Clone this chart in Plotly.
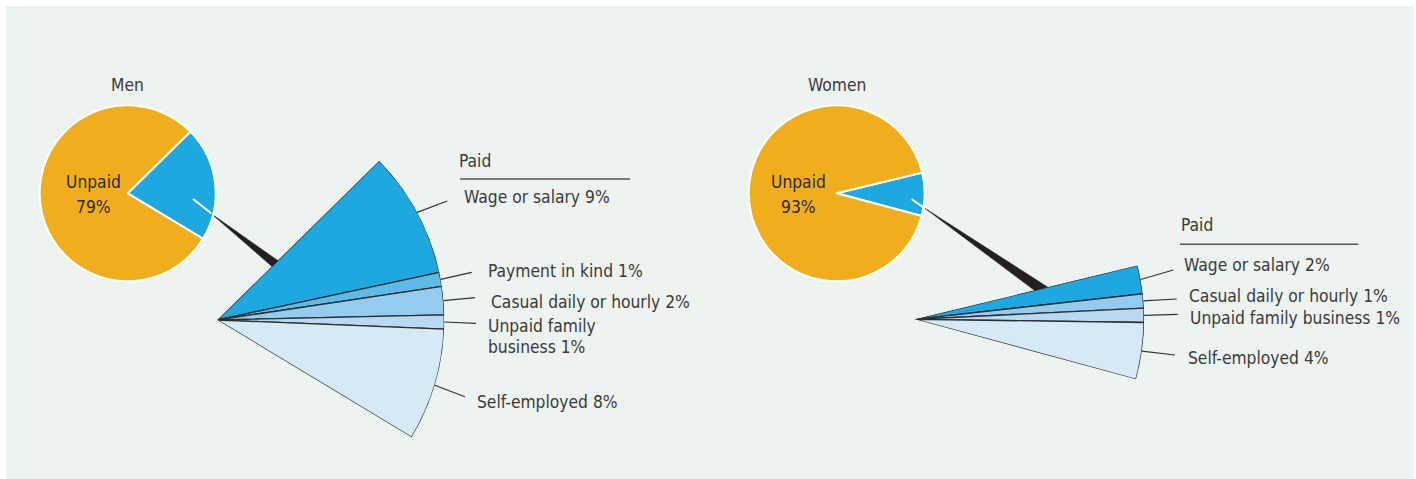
import math
import plotly.graph_objects as go

# ---- data -------------------------------------------------------------
groups = ["Men", "Women"]
unpaid_share = [79, 93]

paid_categories_men = ["Wage or salary", "Payment in kind", "Casual daily or hourly",
                       "Unpaid family business", "Self-employed"]
paid_values_men = [9, 1, 2, 1, 8]

paid_categories_women = ["Wage or salary", "Casual daily or hourly",
                         "Unpaid family business", "Self-employed"]
paid_values_women = [2, 1, 1, 4]

men_label_text = ["Wage or salary 9%", "Payment in kind 1%", "Casual daily or hourly 2%",
                  "Unpaid family<br>business 1%", "Self-employed 8%"]
women_label_text = ["Wage or salary 2%", "Casual daily or hourly 1%",
                    "Unpaid family business 1%", "Self-employed 4%"]

# ---- styling ----------------------------------------------------------
W, H = 1416, 479
FONT = "DejaVu Sans Condensed, Liberation Sans Narrow, sans-serif"
TEXT_COLOR = "#3a3a3a"
FONT_SIZE = 17.3
ORANGE = "#F0AE1D"
BLUE = "#1EA8E0"
cat_colors = {
    "Wage or salary": "#1EA8E0",
    "Payment in kind": "#5DBAE9",
    "Casual daily or hourly": "#93CCEE",
    "Unpaid family business": "#B9D8F1",
    "Self-employed": "#D6E9F7",
}
DEG_PER_PCT = 3.6


def px(x, y):
    """pixel position -> paper fractions"""
    return x / W, 1 - y / H


# pie placement (pixel centre and radius), fan placement (apex and radius)
layout_geo = {
    "Men": dict(pie_c=(127.7, 193.3), pie_r=88, fan_c=(217.3, 320.0), fan_r=227,
                rotation=45.5,
                title_y=85, unpaid_x=93, label_x=[462, 486, 489, 486, 475],
                label_y=[196.5, 270.5, 301.5, 326, 401.5],
                leader_end=[(447.3, 201), (471.7, 272.3), (475, 297.7), (476, 323.3), (465, 396.7)],
                paid_title=(457, 160.5), underline=(460, 630, 179),
                connector=[(211, 213.5), (283.1, 264.3), (277.5, 271.3)],
                white_line=[(193, 199), (211.5, 213.5)]),
    "Women": dict(pie_c=(836.7, 193.3), pie_r=88, fan_c=(915.0, 319.3), fan_r=229,
                  rotation=76.4,
                  title_y=85, unpaid_x=798, label_x=[1182, 1186.5, 1188, 1186],
                  label_y=[265, 295.5, 318.3, 358.3],
                  leader_end=[(1173.3, 270), (1176.7, 299), (1177.7, 314.3), (1175, 355)],
                  paid_title=(1179, 225), underline=(1180, 1358.3, 244.3),
                  connector=[(924.5, 208), (1051.4, 289.4), (1045.2, 298.4)],
                  white_line=[(911.7, 199.3), (925, 208.5)]),
}

fig = go.Figure()
shapes = []
annotations = []

# panel background
shapes.append(dict(type="rect", xref="paper", yref="paper", layer="below",
                   x0=6 / W, x1=1414 / W, y0=0, y1=1 - 6 / H,
                   fillcolor="#EDF3EF", line=dict(width=0)))

series = [
    ("Men", unpaid_share[0], paid_categories_men, paid_values_men, men_label_text),
    ("Women", unpaid_share[1], paid_categories_women, paid_values_women, women_label_text),
]

for idx, (name, unpaid, cats, vals, label_text) in enumerate(series):
    g = layout_geo[name]
    paid_total = sum(vals)
    # start of the paid slice (degrees, counter-clockwise from east)
    start_angle = 90 - g["rotation"]

    # small pie: paid vs unpaid
    cx, cy = g["pie_c"]
    r = g["pie_r"]
    x0, y1 = px(cx - r, cy - r)
    x1, y0 = px(cx + r, cy + r)
    fig.add_trace(go.Pie(
        values=[paid_total, unpaid], labels=["Paid", "Unpaid"], sort=False,
        direction="clockwise", rotation=g["rotation"],
        marker=dict(colors=[BLUE, ORANGE], line=dict(color="white", width=2)),
        textinfo="none", hoverinfo="label+value", showlegend=False,
        domain=dict(x=[x0, x1], y=[y0, y1]),
    ))

    # fan: breakdown of the paid share, drawn as polar bars
    thetas, widths = [], []
    cum = 0
    for v in vals:
        thetas.append(start_angle - (cum + v / 2) * DEG_PER_PCT)
        widths.append(v * DEG_PER_PCT)
        cum += v
    lo = start_angle - paid_total * DEG_PER_PCT
    hi = start_angle
    fcx, fcy = g["fan_c"]
    R = g["fan_r"]
    ys = [math.sin(math.radians(lo)), math.sin(math.radians(hi))]
    top = max(max(ys), 0)
    bot = min(min(ys), 0)
    dx0, dy_top = px(fcx, fcy - R * top)
    dx1, dy_bot = px(fcx + R, fcy - R * bot)
    polar_name = "polar" if idx == 0 else "polar2"
    fig.add_trace(go.Barpolar(
        r=[1] * len(vals), theta=thetas, width=widths, base=0,
        marker=dict(color=[cat_colors[c] for c in cats],
                    line=dict(color="#2e2e2e", width=1.3)),
        text=cats, hoverinfo="text", showlegend=False, subplot=polar_name,
    ))
    fig.update_layout(**{polar_name: dict(
        domain=dict(x=[dx0, dx1], y=[dy_bot, dy_top]),
        sector=[lo, hi], bgcolor="rgba(0,0,0,0)", hole=0,
        radialaxis=dict(visible=False, range=[0, 1], showgrid=False, showline=False,
                        showticklabels=False, ticks=""),
        angularaxis=dict(visible=False, rotation=0, direction="counterclockwise",
                         showgrid=False, showline=False, showticklabels=False, ticks=""),
    )})

    # black connector from the pie slice to the fan
    pts = [px(*p) for p in g["connector"]]
    path = "M {} {} L {} {} L {} {} Z".format(pts[0][0], pts[0][1], pts[1][0], pts[1][1],
                                              pts[2][0], pts[2][1])
    shapes.append(dict(type="path", xref="paper", yref="paper", layer="below", path=path,
                       fillcolor="#231F20", line=dict(color="#231F20", width=0.5)))
    (wx0, wy0), (wx1, wy1) = [px(*p) for p in g["white_line"]]
    shapes.append(dict(type="line", xref="paper", yref="paper", layer="above",
                       x0=wx0, y0=wy0, x1=wx1, y1=wy1, line=dict(color="white", width=2)))

    # leader lines from each slice's arc midpoint to its label
    cum = 0
    for k, v in enumerate(vals):
        a = math.radians(start_angle - (cum + v / 2) * DEG_PER_PCT)
        cum += v
        sx, sy = fcx + R * math.cos(a), fcy - R * math.sin(a)
        ex, ey = g["leader_end"][k]
        p0, p1 = px(sx, sy), px(ex, ey)
        shapes.append(dict(type="line", xref="paper", yref="paper", layer="above",
                           x0=p0[0], y0=p0[1], x1=p1[0], y1=p1[1],
                           line=dict(color="#333333", width=1.2)))

    # labels
    for k, txt in enumerate(label_text):
        lines = txt.split("<br>")
        for j, line in enumerate(lines):
            lx, ly = px(g["label_x"][k], g["label_y"][k] + j * 21.3)
            annotations.append(dict(text=line, x=lx, y=ly, xref="paper", yref="paper",
                                    xanchor="left", yanchor="middle", showarrow=False,
                                    font=dict(family=FONT, size=FONT_SIZE, color=TEXT_COLOR)))
    ptx, pty = px(*g["paid_title"])
    annotations.append(dict(text="Paid", x=ptx, y=pty, xref="paper", yref="paper",
                            xanchor="left", yanchor="middle", showarrow=False,
                            font=dict(family=FONT, size=FONT_SIZE, color=TEXT_COLOR)))
    ux0, uy = px(g["underline"][0], g["underline"][2])
    ux1, _ = px(g["underline"][1], g["underline"][2])
    shapes.append(dict(type="line", xref="paper", yref="paper", layer="above",
                       x0=ux0, y0=uy, x1=ux1, y1=uy, line=dict(color="#555555", width=1.5)))

    # group title and unpaid label
    tx, ty = px(cx, g["title_y"])
    annotations.append(dict(text=name, x=tx, y=ty, xref="paper", yref="paper",
                            xanchor="center", yanchor="middle", showarrow=False,
                            font=dict(family=FONT, size=FONT_SIZE, color=TEXT_COLOR)))
    for j, line in enumerate(["Unpaid", f"{unpaid}%"]):
        ax_, ay_ = px(g["unpaid_x"], 182 + j * 25)
        annotations.append(dict(text=line, x=ax_, y=ay_, xref="paper", yref="paper",
                                xanchor="center", yanchor="middle", showarrow=False,
                                font=dict(family=FONT, size=FONT_SIZE, color="#2a2a2a")))

fig.update_layout(
    width=W, height=H, margin=dict(l=0, r=0, t=0, b=0),
    paper_bgcolor="white", plot_bgcolor="white",
    shapes=shapes, annotations=annotations, showlegend=False,
)

fig.write_html("out.html")
